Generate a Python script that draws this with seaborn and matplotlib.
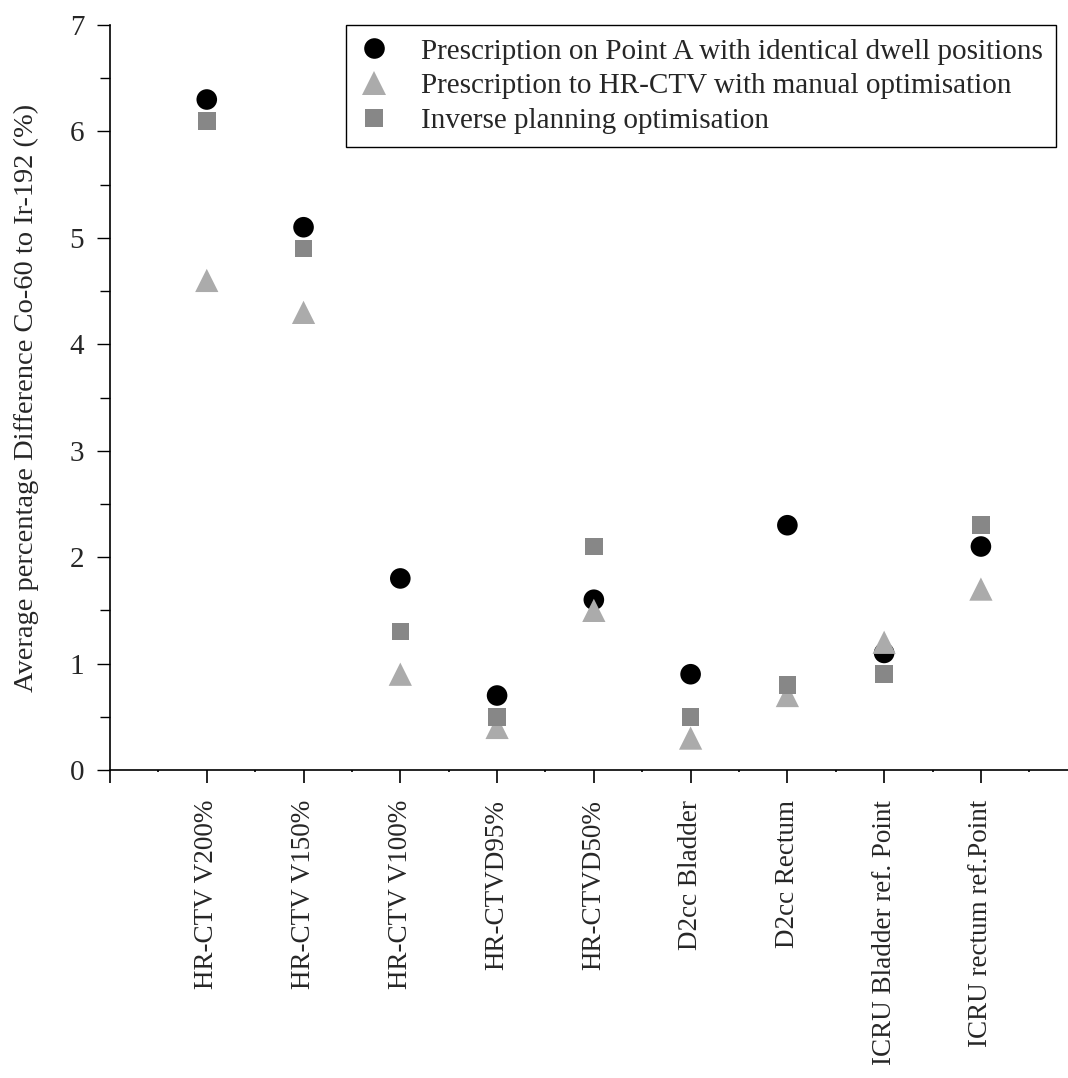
import matplotlib
matplotlib.use("Agg")
import matplotlib.pyplot as plt
import pandas as pd
import seaborn as sns
from matplotlib.ticker import MultipleLocator

categories = [
	"HR-CTV V200%",
	"HR-CTV V150%",
	"HR-CTV V100%",
	"HR-CTVD95%",
	"HR-CTVD50%",
	"D2cc Bladder",
	"D2cc Rectum",
	"ICRU Bladder ref. Point",
	"ICRU rectum ref.Point",
]

series_names = [
	"Prescription on Point A with identical dwell positions",
	"Prescription to HR-CTV with manual optimisation",
	"Inverse planning optimisation",
]

point_a = [6.3, 5.1, 1.8, 0.7, 1.6, 0.9, 2.3, 1.1, 2.1]
manual_opt = [4.6, 4.3, 0.9, 0.4, 1.5, 0.3, 0.7, 1.2, 1.7]
inverse_opt = [6.1, 4.9, 1.3, 0.5, 2.1, 0.5, 0.8, 0.9, 2.3]


def _long_frame() -> pd.DataFrame:
	rows = []
	for name, vals in zip(series_names, [point_a, manual_opt, inverse_opt]):
		for i, v in enumerate(vals):
			rows.append({"pos": i, "value": v, "series": name})
	return pd.DataFrame(rows)


def main() -> None:
	sns.set_theme(style="ticks")
	plt.rcParams["font.family"] = ["Liberation Serif", "DejaVu Serif"]

	df = _long_frame()
	palette = dict(zip(series_names, ["#000000", "#ababab", "#878787"]))
	markers = dict(zip(series_names, ["o", "^", "s"]))
	sizes = dict(zip(series_names, [220, 280, 160]))

	fig = plt.figure(figsize=(10.68, 10.78), dpi=100)
	ax = fig.add_axes([0.103, 0.2857, 0.897, 0.6911])
	sns.scatterplot(
		data=df, x="pos", y="value", hue="series", style="series", size="series",
		palette=palette, markers=markers, sizes=sizes, hue_order=series_names,
		style_order=series_names, size_order=series_names, linewidth=0, ax=ax,
	)

	ax.set_xlim(-1, 8.9)
	ax.set_ylim(0, 7)
	ax.set_xticks(range(-1, 9))
	ax.set_xticklabels([""] + categories, rotation=90, fontsize=19.5)
	ax.xaxis.set_minor_locator(MultipleLocator(0.5))
	ax.yaxis.set_major_locator(MultipleLocator(1))
	ax.yaxis.set_minor_locator(MultipleLocator(0.5))
	ax.tick_params(axis="x", which="major", direction="out", length=9.5, width=1.2, pad=12, color="black")
	ax.tick_params(axis="x", which="minor", direction="out", length=1.5, width=1.2, color="black")
	ax.tick_params(axis="y", which="major", direction="out", length=9.5, width=1.0, pad=9, labelsize=21, color="black")
	ax.tick_params(axis="y", which="minor", direction="out", length=7, width=1.0, color="black")
	for side in ["top", "right"]:
		ax.spines[side].set_visible(False)
	for side in ["left", "bottom"]:
		ax.spines[side].set_color("black")
		ax.spines[side].set_linewidth(1.2)

	ax.set_xlabel("")
	ax.set_ylabel("Average percentage Difference Co-60 to Ir-192 (%)", fontsize=20.5, labelpad=22)

	handles, labels = ax.get_legend_handles_labels()
	leg = ax.legend(
		handles, labels, loc="upper right", bbox_to_anchor=(0.987, 1.0), fontsize=21,
		frameon=True, fancybox=False, edgecolor="black", framealpha=1,
		handlelength=1.0, handletextpad=1.1, labelspacing=0.28, borderpad=0.45,
		borderaxespad=0.0,
	)
	leg.get_frame().set_linewidth(1.0)

	fig.savefig("out.png", dpi=100)
	plt.close(fig)


if __name__ == "__main__":
	main()
